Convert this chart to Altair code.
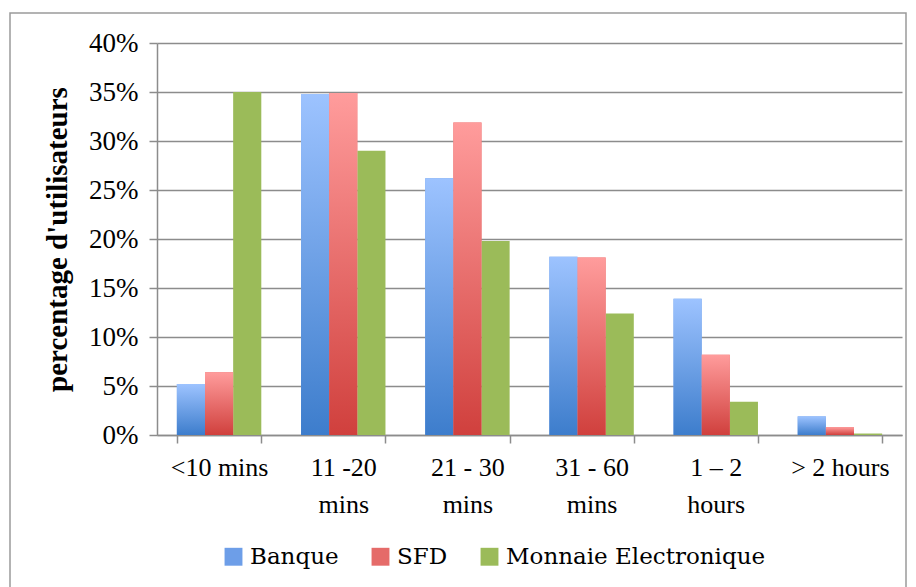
import altair as alt
import pandas as pd

categories = ["<10 mins", "11 -20\nmins", "21 - 30\nmins", "31 - 60\nmins", "1 – 2\nhours", "> 2 hours"]
series = ["Banque", "SFD", "Monnaie Electronique"]
banque = [5.2, 34.8, 26.2, 18.2, 13.9, 1.9]
sfd = [6.4, 34.9, 31.9, 18.1, 8.2, 0.8]
monnaie = [35.0, 29.0, 19.8, 12.4, 3.4, 0.15]
y_ticks = [0, 5, 10, 15, 20, 25, 30, 35, 40]

rows = []
for s, vals in zip(series, [banque, sfd, monnaie]):
    for c, v in zip(categories, vals):
        rows.append({"cat": c, "series": s, "value": v})
df = pd.DataFrame(rows)

FONT = "Liberation Serif"
LFONT = "DejaVu Serif"
legend_colors = ["#6d9ee8", "#e56b69", "#9BBB59"]

x_enc = alt.X("cat:N", sort=categories,
              scale=alt.Scale(paddingInner=0.32, paddingOuter=0.16),
              axis=alt.Axis(title=None, labelAngle=0, tickBand="extent",
                            labelExpr="split(datum.label, '\\n')",
                            labelFont=FONT, labelFontSize=26, labelColor="#000",
                            labelLineHeight=37, labelPadding=11, labelBaseline="top",
                            labelLimit=0,
                            tickSize=8, tickColor="#8c8c8c", tickWidth=1.5,
                            domainColor="#8c8c8c", domainWidth=1.5, grid=False))
xo_enc = alt.XOffset("series:N", sort=series, scale=alt.Scale(paddingInner=0, paddingOuter=0))
y_enc = alt.Y("value:Q", scale=alt.Scale(domain=[0, 40], nice=False),
              axis=alt.Axis(title="percentage d'utilisateurs", values=y_ticks,
                            labelExpr="datum.value + '%'",
                            labelFont=FONT, labelFontSize=27, labelColor="#000",
                            labelPadding=11,
                            titleFont=FONT, titleFontSize=29, titleFontWeight="bold",
                            titleColor="#000", titlePadding=16,
                            tickSize=8, tickColor="#8c8c8c", tickWidth=1.5,
                            domainColor="#8c8c8c", domainWidth=1.5,
                            gridColor="#8c8c8c", gridWidth=1.5))

base = alt.Chart(df).mark_bar().encode(
    x=x_enc, xOffset=xo_enc, y=y_enc,
    color=alt.Color("series:N", sort=series,
                    scale=alt.Scale(domain=series, range=legend_colors),
                    legend=alt.Legend(title=None, orient="none", direction="horizontal",
                                      legendX=65, legendY=502,
                                      symbolType="square", symbolSize=320,
                                      symbolStrokeWidth=0, labelLimit=0,
                                      labelFont=LFONT, labelFontSize=23, labelColor="#000",
                                      columnPadding=30, labelOffset=5))
)

def grad(bottom, top):
    return alt.Gradient(gradient="linear", x1=0, x2=0, y1=1, y2=0,
                        stops=[alt.GradientStop(color=bottom, offset=0),
                               alt.GradientStop(color=top, offset=1)])

blue = alt.Chart(df).transform_filter(alt.datum.series == "Banque").mark_bar(
    color=grad("#3d7dcc", "#9dc3ff")).encode(x=x_enc, xOffset=xo_enc, y=y_enc)
red = alt.Chart(df).transform_filter(alt.datum.series == "SFD").mark_bar(
    color=grad("#d0403d", "#ff9c9c")).encode(x=x_enc, xOffset=xo_enc, y=y_enc)

frame = alt.Chart(pd.DataFrame({"a": [0]})).mark_rect(
    filled=False, stroke="#9a9a9a", strokeWidth=1.5).encode(
    x=alt.value(-147), x2=alt.value(749), y=alt.value(-30), y2=alt.value(600))

chart = alt.layer(frame, base, blue, red).properties(
    width=745, height=392,
    autosize=alt.AutoSizeParams(type="none"),
    padding={"left": 157, "top": 43, "right": 14, "bottom": 152},
).configure(background="white", font=FONT).configure_view(stroke=None).configure_legend(
    labelFont=LFONT)

chart.save("out.html", embed_options={"renderer": "svg", "actions": False})
